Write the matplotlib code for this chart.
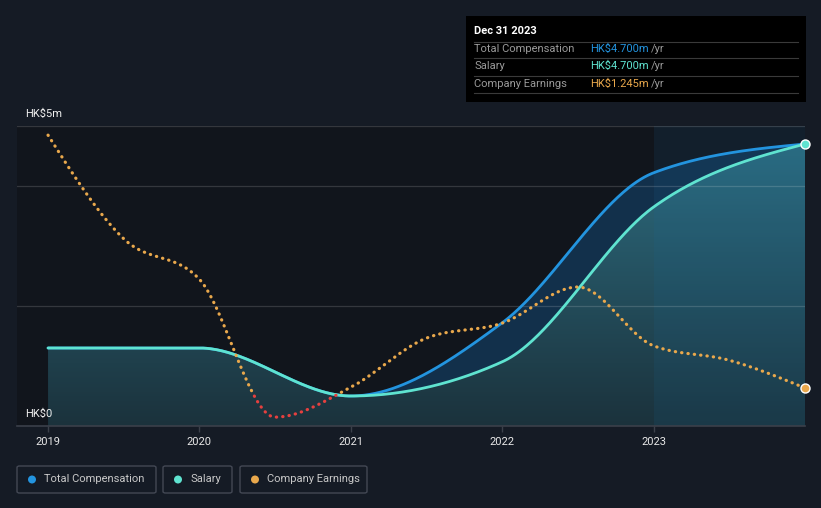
import numpy as np
import matplotlib
matplotlib.use("Agg")
import matplotlib.pyplot as plt
from matplotlib.patches import FancyBboxPatch, Rectangle, Ellipse
from matplotlib.lines import Line2D

plt.rcParams['font.family'] = ['Roboto', 'DejaVu Sans']

# ---------------- data (HK$ m) ----------------
comp_years = [2019.0, 2020.0, 2021.0, 2022.0, 2023.0, 2024.0]
salary = [1.3, 1.3, 0.5, 1.07, 3.65, 4.7]
total_comp = [1.3, 1.3, 0.5, 1.72, 4.22, 4.7]

earn_years = [2019.0, 2019.5, 2020.0, 2020.5, 2021.0, 2021.5, 2022.0, 2022.5,
              2023.0, 2023.5, 2024.0]
earnings = [53.7, 32.2, 23.8, -4.8, 1.4, 11.6, 14.7, 22.2, 10.0, 7.0, 1.245]

year_ticks = [2019, 2020, 2021, 2022, 2023]
y_labels = ["HK$0", "HK$5m"]

# ---------------- colours ----------------
FIG_BG = '#151b25'
AX_BG = '#11151c'
C_TOTAL = '#2394df'
C_SAL = '#5fe3d0'
C_EARN = '#e9a84c'
C_RED = '#e5403f'


def monotone_x(x, y, per_seg=80):
    """d3 curveMonotoneX style rendering of a series"""
    x = np.asarray(x, float); y = np.asarray(y, float)
    n = len(x)
    h = np.diff(x); s = np.diff(y) / h
    m = np.zeros(n)
    for i in range(1, n - 1):
        p = (s[i - 1] * h[i] + s[i] * h[i - 1]) / (h[i - 1] + h[i])
        m[i] = (np.sign(s[i - 1]) + np.sign(s[i])) * min(abs(s[i - 1]), abs(s[i]), 0.5 * abs(p))
    m[0] = (3 * s[0] - m[1]) / 2
    m[-1] = (3 * s[-1] - m[-2]) / 2
    xs_all, ys_all = [], []
    for i in range(n - 1):
        t = np.linspace(0, 1, per_seg, endpoint=(i == n - 2))
        h00 = 2 * t**3 - 3 * t**2 + 1; h10 = t**3 - 2 * t**2 + t
        h01 = -2 * t**3 + 3 * t**2; h11 = t**3 - t**2
        xs_all.append(x[i] + t * h[i])
        ys_all.append(h00 * y[i] + h10 * h[i] * m[i] + h01 * y[i + 1] + h11 * h[i] * m[i + 1])
    return np.concatenate(xs_all), np.concatenate(ys_all)


W, H = 821, 508
fig = plt.figure(figsize=(W / 100, H / 100), dpi=100, facecolor=FIG_BG)
ax = fig.add_axes([17 / W, 82 / H, 788 / W, 300 / H])
ax.set_facecolor(AX_BG)
ax.set_xlim(2018.795, 2024.0)
ax.set_ylim(0, 5)
for s in ax.spines.values():
    s.set_visible(False)

# grid lines
for gv in [2, 4, 5]:
    ax.axhline(gv, color='white', alpha=0.15, lw=0.9, zorder=5)
ax.axhline(0, color='#3b404a', lw=1.2, zorder=6, clip_on=False)

# smoothed curves
xs_s, ys_s = monotone_x(comp_years, salary)
xs_t, ys_t = monotone_x(comp_years, total_comp)
ys_t = np.maximum(ys_t, ys_s)

# total comp fill (between salary and total)
ax.fill_between(xs_t, ys_s, ys_t, color='#12304b', lw=0, zorder=1)

# salary gradient fill
grad_n = 256
v = np.linspace(0, 1, grad_n)[:, None]
c0 = np.array([27, 50, 60]) / 255
c1 = np.array([46, 112, 132]) / 255
img = (c0 + (c1 - c0) * v).reshape(grad_n, 1, 3)
poly = ax.fill_between(xs_s, 0, ys_s, facecolor='none', edgecolor='none')
im = ax.imshow(img, extent=[2019, 2024, 0, 5], origin='lower', aspect='auto', zorder=2,
               interpolation='bilinear')
im.set_clip_path(poly.get_paths()[0], transform=ax.transData)

# highlight region from 2023
ax.axvspan(2023, 2024, color='#1a6a9a', alpha=0.13, lw=0, zorder=3)

# lines
ax.plot(xs_t, ys_t, color=C_TOTAL, lw=2.0, zorder=7, solid_capstyle='round')
ax.plot(xs_s, ys_s, color=C_SAL, lw=2.0, zorder=8, solid_capstyle='round')
ax.plot([comp_years[-1]], [salary[-1]], 'o', ms=6.5, mfc=C_SAL, mec='white', mew=1.0,
        zorder=12, clip_on=False)

# earnings on own scale
ax2 = ax.twinx()
ax2.set_ylim(-6.64, 55.6)
ax2.set_xlim(ax.get_xlim())
ax2.axis('off')
xs_e, ys_e = monotone_x(earn_years, earnings, per_seg=60)
ln_o, = ax2.plot(xs_e, ys_e, color=C_EARN, lw=2.3, linestyle=(0, (0.1, 1.9)),
                 dash_capstyle='round', zorder=9)
ln_r, = ax2.plot(xs_e, ys_e, color=C_RED, lw=2.3, linestyle=(0, (0.1, 1.9)),
                 dash_capstyle='round', zorder=9)
pos_rect = Rectangle((2018, 0), 10, 100, transform=ax2.transData)
neg_rect = Rectangle((2018, -100), 10, 100, transform=ax2.transData)
ln_o.set_clip_path(pos_rect)
ln_r.set_clip_path(neg_rect)
ax2.plot([earn_years[-1]], [earnings[-1]], 'o', ms=6.5, mfc=C_EARN, mec='white', mew=1.0,
         zorder=12, clip_on=False)

# x ticks
ax.set_xticks(year_ticks)
ax.set_xticklabels([str(y) for y in year_ticks], color='#e8e8e8', fontsize=8)
ax.tick_params(axis='x', length=4, width=1, color='#3b404a', pad=4)
ax.set_yticks([])

# y labels
fig.text(25 / W, 1 - 114 / H, y_labels[1], color='#f0f0f0', fontsize=8, va='center', ha='left')
fig.text(25 / W, 1 - 414 / H, y_labels[0], color='#f0f0f0', fontsize=8, va='center', ha='left')

# tooltip
fig.patches.append(Rectangle((466 / W, 1 - 102 / H), 340 / W, 86 / H, transform=fig.transFigure,
                             facecolor='black', edgecolor='none', zorder=20))
fig.text(474 / W, 1 - 31 / H, "Dec 31 2023", color='white', fontsize=8, fontweight='bold',
         va='center', ha='left', zorder=21)
for ly in [42, 58, 76, 93]:
    fig.add_artist(Line2D([474 / W, 798 / W], [1 - ly / H, 1 - ly / H], color='#3a3a3a',
                          lw=0.8, zorder=21))
rows = [("Total Compensation", "HK$4.700m", C_TOTAL, 49),
        ("Salary", "HK$4.700m", C_SAL, 66),
        ("Company Earnings", "HK$1.245m", C_EARN, 84)]
for lab, val, col, ry in rows:
    fig.text(474 / W, 1 - ry / H, lab, color='#9a9a9a', fontsize=8, va='center', ha='left', zorder=21)
    fig.text(590 / W, 1 - ry / H, val, color=col, fontsize=8, va='center', ha='left', zorder=21)
    fig.text(651 / W, 1 - ry / H, "/yr", color='#9a9a9a', fontsize=8, va='center', ha='left', zorder=21)

# legend boxes
legend = [("Total Compensation", C_TOTAL, 17, 156),
          ("Salary", C_SAL, 163, 232),
          ("Company Earnings", C_EARN, 240, 367)]
for lab, col, x0, x1 in legend:
    fig.patches.append(FancyBboxPatch((x0 / W, 1 - 493 / H), (x1 - x0) / W, 27 / H,
                                      boxstyle="round,pad=0,rounding_size=0.003",
                                      transform=fig.transFigure, facecolor='none',
                                      edgecolor='#434854', lw=1.0))
    fig.patches.append(Ellipse(((x0 + 15) / W, 1 - 479.5 / H), 8 / W, 8 / H,
                               transform=fig.transFigure, facecolor=col, edgecolor='none'))
    fig.text((x0 + 27) / W, 1 - 479.5 / H, lab, color='#c8c8c8', fontsize=8, va='center', ha='left')

fig.savefig('out.png', dpi=100, facecolor=FIG_BG)
